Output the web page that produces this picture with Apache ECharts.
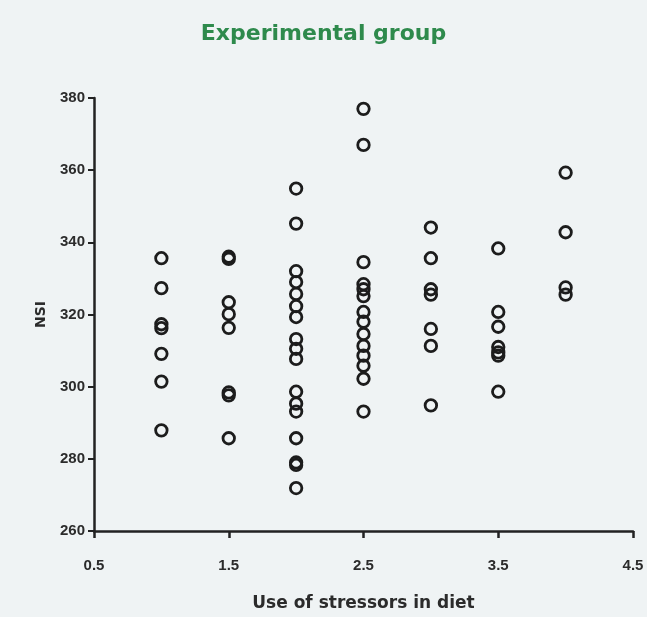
<!DOCTYPE html>
<html>
<head>
<meta charset="utf-8">
<script src="https://cdn.jsdelivr.net/npm/echarts@6/dist/echarts.min.js"></script>
<style>
html,body{margin:0;padding:0;background:#eff3f4;}
#chart{width:647px;height:617px;}
</style>
</head>
<body>
<div id="chart"></div>
<script>
// Data: NSI values by "Use of stressors in diet" level
var xLevels = [1, 1.5, 2, 2.5, 3, 3.5, 4];
var nsi_1   = [335.6, 327.3, 317.3, 316.2, 309.1, 301.4, 287.9];
var nsi_1_5 = [336, 335.4, 323.4, 320.1, 316.3, 298.4, 297.6, 285.7];
var nsi_2   = [354.9, 345.2, 332, 329, 325.7, 322.3, 319.3, 313.2, 310.5, 307.7, 298.6, 295.3, 293.1, 285.7, 279, 278.3, 271.9];
var nsi_2_5 = [377, 367, 334.5, 328.4, 327, 325.1, 320.7, 318, 314.6, 311.3, 308.6, 305.8, 302.2, 293.1];
var nsi_3   = [344.1, 335.6, 327, 325.5, 316, 311.3, 294.8];
var nsi_3_5 = [338.3, 320.7, 316.6, 311, 309.5, 308.6, 298.6];
var nsi_4   = [359.3, 342.8, 327.5, 325.5];
var xTickValues = [0.5, 1.5, 2.5, 3.5, 4.5];
var yTickMin = 260, yTickMax = 380, yTickStep = 20;

var groups = [nsi_1, nsi_1_5, nsi_2, nsi_2_5, nsi_3, nsi_3_5, nsi_4];
var points = [];
groups.forEach(function (vals, i) {
  vals.forEach(function (v) { points.push([xLevels[i], v]); });
});

var chart = echarts.init(document.getElementById('chart'), null, {renderer: 'canvas'});
var axisFont = {fontFamily: 'Liberation Sans', fontWeight: 'bold', fontSize: 15, color: '#2b2b2b'};
chart.setOption({
  backgroundColor: '#eff3f4',
  animation: false,
  title: {
    text: 'Experimental group',
    left: 'center',
    top: 18,
    textStyle: {fontFamily: 'DejaVu Sans', fontWeight: 'bold', fontSize: 22, color: '#2e8a4c'}
  },
  grid: {left: 94, right: 14, top: 98, bottom: 84, containLabel: false},
  xAxis: {
    type: 'value',
    min: 0.5, max: 4.5,
    name: 'Use of stressors in diet',
    nameLocation: 'middle',
    nameGap: 64,
    nameTextStyle: {fontFamily: 'DejaVu Sans', fontWeight: 'bold', fontSize: 17, color: '#2b2b2b'},
    axisLine: {show: true, lineStyle: {color: '#222', width: 2.5}},
    axisTick: {show: true, inside: false, length: 7, lineStyle: {color: '#222', width: 2.5}, customValues: xTickValues},
    axisLabel: Object.assign({margin: 27, customValues: xTickValues, formatter: function (v) { return v.toFixed(1); }}, axisFont),
    splitLine: {show: false}
  },
  yAxis: {
    type: 'value',
    min: yTickMin, max: yTickMax, interval: yTickStep,
    name: 'NSI',
    nameLocation: 'middle',
    nameGap: 46,
    nameRotate: 90,
    nameTextStyle: {fontFamily: 'DejaVu Sans', fontWeight: 'bold', fontSize: 14, color: '#2b2b2b'},
    axisLine: {show: true, lineStyle: {color: '#222', width: 2.5}},
    axisTick: {show: true, inside: false, length: 6, lineStyle: {color: '#222', width: 2}},
    axisLabel: Object.assign({margin: 9}, axisFont),
    splitLine: {show: false}
  },
  series: [{
    type: 'scatter',
    data: points,
    symbol: 'circle',
    symbolSize: 11.5,
    itemStyle: {color: 'rgba(0,0,0,0)', borderColor: '#1c1c1c', borderWidth: 2.8, opacity: 1}
  }]
});
</script>
</body>
</html>
